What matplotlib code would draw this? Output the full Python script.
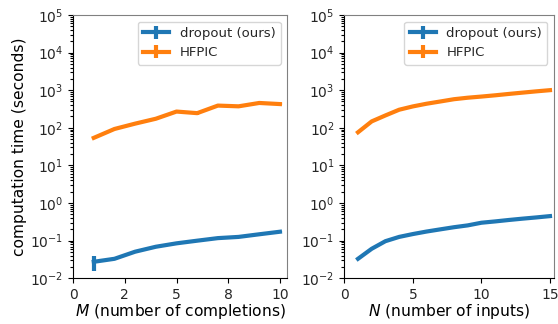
import numpy as np
import matplotlib
matplotlib.use("Agg")
import matplotlib.pyplot as plt
from matplotlib.ticker import FixedLocator, FormatStrFormatter, LogLocator, NullFormatter

# left panel: time vs number of completions M
m_vals = [1, 2, 3, 4, 5, 6, 7, 8, 9, 10]
m_dropout = [0.0275, 0.033, 0.051, 0.069, 0.085, 0.100, 0.117, 0.126, 0.148, 0.173]
m_dropout_err = [0.012, 0.003, 0.002, 0.002, 0.002, 0.002, 0.002, 0.002, 0.002, 0.003]
m_hfpic = [54, 93, 129, 174, 270, 245, 389, 372, 457, 427]
m_hfpic_err = [3, 4, 5, 8, 10, 30, 12, 35, 15, 25]

# right panel: time vs number of inputs N
n_vals = [1, 2, 3, 4, 5, 6, 7, 8, 9, 10, 11, 12, 13, 14, 15]
n_dropout = [0.033, 0.061, 0.097, 0.126, 0.150, 0.175, 0.200, 0.228, 0.255, 0.300,
             0.325, 0.355, 0.385, 0.415, 0.450]
n_hfpic = [76, 148, 213, 302, 370, 436, 500, 575, 630, 676, 730, 794, 860, 930, 1000]

plt.rcParams['text.color'] = '0.15'
plt.rcParams['xtick.labelcolor'] = '0.15'
plt.rcParams['ytick.labelcolor'] = '0.15'

fig = plt.figure(figsize=(5.58, 3.24), dpi=100)
ax1 = fig.add_axes([0.131, 0.141, 0.384, 0.813])
ax2 = fig.add_axes([0.617, 0.141, 0.376, 0.813])

blue = '#1f77b4'
orange = '#ff7f0e'

ax1.errorbar(m_vals, m_dropout, yerr=m_dropout_err, color=blue, lw=3, elinewidth=3,
             label='dropout (ours)')
ax1.errorbar(m_vals, m_hfpic, yerr=m_hfpic_err, color=orange, lw=3, elinewidth=3,
             label='HFPIC')
ax2.errorbar(n_vals, n_dropout, yerr=0.0, color=blue, lw=3, elinewidth=3,
             label='dropout (ours)')
ax2.errorbar(n_vals, n_hfpic, yerr=0.0, color=orange, lw=3, elinewidth=3,
             label='HFPIC')

for ax in (ax1, ax2):
    ax.set_yscale('log')
    ax.set_ylim(1e-2, 1e5)
    ax.yaxis.set_major_locator(LogLocator(base=10, numticks=20))
    ax.yaxis.set_minor_locator(LogLocator(base=10, subs=np.arange(2, 10), numticks=100))
    ax.yaxis.set_minor_formatter(NullFormatter())
    ax.tick_params(axis='y', which='minor', length=2.5, width=0.8)
    ax.spines['top'].set_color('0.5')
    ax.spines['right'].set_color('0.5')
    ax.tick_params(labelsize=10)
    ax.legend(loc='upper right', fontsize=9.5)

ax1.set_xlim(0, 10.36)
ax1.xaxis.set_major_locator(FixedLocator([0, 2.5, 5, 7.5, 10]))
ax1.xaxis.set_major_formatter(FormatStrFormatter('%.0f'))
ax1.set_xlabel(r'$M$ (number of completions)', fontsize=11.2, labelpad=0)
ax1.set_ylabel('computation time (seconds)', fontsize=11.2, labelpad=2)

ax2.set_xlim(0, 15.3)
ax2.set_xticks([0, 5, 10, 15])
ax2.set_xlabel(r'$N$ (number of inputs)', fontsize=11.2, labelpad=0)

fig.savefig('out.png', dpi=100)
